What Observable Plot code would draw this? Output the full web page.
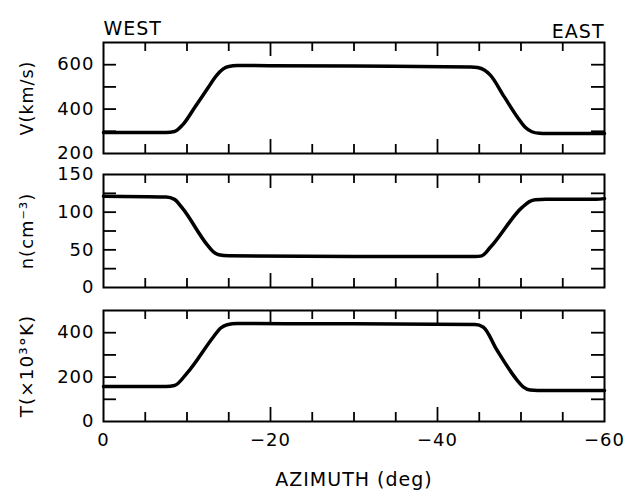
<!DOCTYPE html>
<html><head><meta charset="utf-8">
<script src="https://cdn.jsdelivr.net/npm/d3@7"></script>
<script src="https://cdn.jsdelivr.net/npm/@observablehq/plot@0.6"></script>
<style>
html,body{margin:0;padding:0;background:#fff;}
#chart{width:624px;height:493px;overflow:hidden;}
#chart svg{display:block;}
</style></head><body><div id="chart"></div>
<script>
// Azimuth (deg) and values
const vAz  = [0, -7.5, -8.5, -9.5, -11, -12.5, -13.5, -14.3, -15, -16, -30, -44, -44.8, -45.6, -46.3, -48, -49.6, -50.5, -51.3, -52.2, -53, -60];
const vVal = [295, 295, 299, 330, 412, 495, 550, 580, 592, 596, 594, 590, 587, 576, 554, 455, 362, 318, 298, 291, 290, 290];

const nAz  = [0, -7.5, -8.5, -9.4, -12.4, -13.2, -13.8, -15, -30, -44.5, -45.3, -46.3, -50.1, -51, -51.7, -53, -59, -60];
const nVal = [121, 120, 117, 106, 57, 47, 43.5, 42, 41, 41, 42, 53, 106, 114, 116.5, 117, 117, 118];

const tAz  = [0, -7.5, -8.5, -10, -13.2, -14, -14.8, -16, -30, -44.5, -45.5, -47.1, -49.5, -50.3, -51.1, -52, -60];
const tVal = [158, 158, 162, 218, 383, 420, 436, 441, 440, 437, 425, 323, 188, 155, 142, 140, 140];

const xMinorTicks = [-5, -10, -15, -25, -30, -35, -45, -50, -55];
const xMajorTicks = [-20, -40];
const xTickLabels = [0, -20, -40, -60];

const vTicks = [300, 400, 500, 600];
const vTickLabels = [200, 400, 600];
const nTicks = [25, 50, 75, 100, 125];
const nTickLabels = [0, 50, 100, 150];
const tTicks = [100, 200, 300, 400];
const tTickLabels = [0, 200, 400];

const W = 624, ML = 103, MR = 20;
const FONT = "DejaVu Sans";

function panel({az, val, yDomain, yTicks, yTickLabels, label, labelSize, marginTop, frameH, marginBottom, extra = [], xAxis = false}) {
  const data = az.map((a, i) => ({az: a, v: val[i]}));
  const fw = W - ML - MR;
  const marks = [
    Plot.ruleX(xMinorTicks, {x: d => d, insetTop: frameH - 9, strokeWidth: 1.8}),
    Plot.ruleX(xMinorTicks, {x: d => d, insetBottom: frameH - 9, strokeWidth: 1.8}),
    Plot.ruleX(xMajorTicks, {x: d => d, insetTop: frameH - 14, strokeWidth: 1.8}),
    Plot.ruleX(xMajorTicks, {x: d => d, insetBottom: frameH - 14, strokeWidth: 1.8}),
    Plot.ruleY(yTicks, {y: d => d, insetRight: fw - 13, strokeWidth: 1.8}),
    Plot.ruleY(yTicks, {y: d => d, insetLeft: fw - 13, strokeWidth: 1.8}),
    Plot.frame({stroke: "#000", strokeWidth: 2}),
    Plot.line(data, {x: "az", y: "v", stroke: "#000", strokeWidth: 3.5, curve: "monotone-x"}),
    Plot.axisY({ticks: yTickLabels, tickSize: 0, tickPadding: 9, label: null, fontSize: 18}),
    Plot.text([label], {text: d => d, frameAnchor: "left", textAnchor: "middle", lineAnchor: "middle", dx: -76, rotate: -90, fontSize: labelSize}),
    ...extra
  ];
  if (xAxis) {
    marks.push(Plot.axisX({ticks: xTickLabels, tickSize: 0, tickPadding: 12, label: null, fontSize: 18}));
  }
  return Plot.plot({
    width: W,
    height: marginTop + frameH + marginBottom,
    marginLeft: ML, marginRight: MR, marginTop, marginBottom,
    x: {domain: [0, -60], axis: xAxis ? undefined : null},
    y: {domain: yDomain},
    style: {fontFamily: FONT, fontSize: "18px", letterSpacing: "1px", color: "#000", background: "#fff", overflow: "visible"},
    marks
  });
}

const chart = document.getElementById("chart");

chart.appendChild(panel({
  az: vAz, val: vVal, yDomain: [200, 700], yTicks: vTicks, yTickLabels: vTickLabels,
  label: "V(km/s)", labelSize: 17.5, marginTop: 42, frameH: 111, marginBottom: 7,
  extra: [
    Plot.text(["WEST"], {text: d => d, frameAnchor: "top-left", textAnchor: "start", dy: -21, fontSize: 19}),
    Plot.text(["EAST"], {text: d => d, frameAnchor: "top-right", textAnchor: "end", dy: -18, fontSize: 19})
  ]
}));

chart.appendChild(panel({
  az: nAz, val: nVal, yDomain: [0, 150], yTicks: nTicks, yTickLabels: nTickLabels,
  label: "n(cm⁻³)", labelSize: 18, marginTop: 14, frameH: 113, marginBottom: 10
}));

chart.appendChild(panel({
  az: tAz, val: tVal, yDomain: [0, 500], yTicks: tTicks, yTickLabels: tTickLabels,
  label: "T(×10³°K)", labelSize: 18.5, marginTop: 13, frameH: 111, marginBottom: 72, xAxis: true,
  extra: [
    Plot.text(["AZIMUTH (deg)"], {text: d => d, frameAnchor: "bottom", dy: 64, fontSize: 19})
  ]
}));
</script>
</body></html>
